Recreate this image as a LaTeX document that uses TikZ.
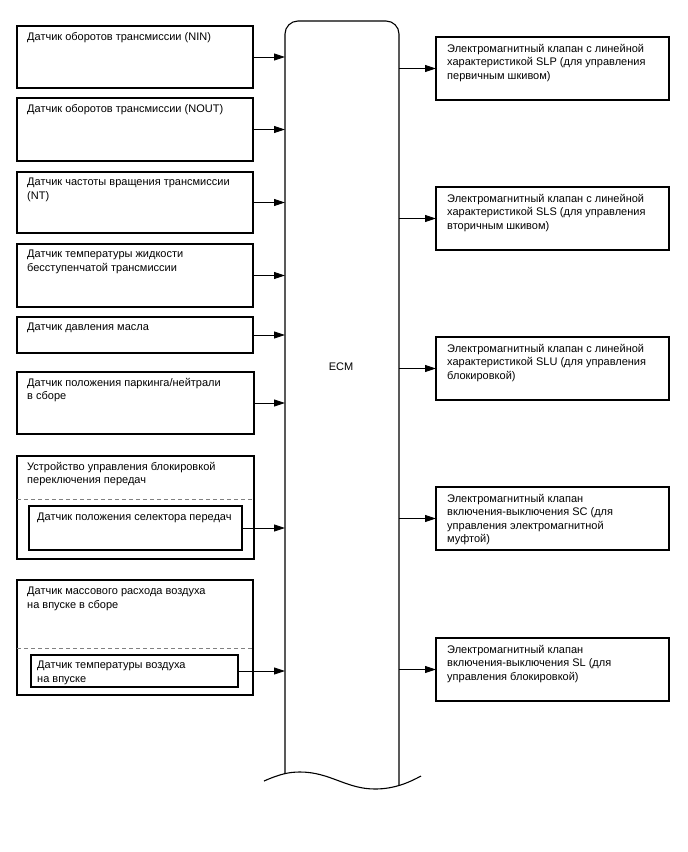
\documentclass[tikz,border=0pt]{standalone}
\usepackage{fontspec}
\setmainfont{Liberation Sans}
\usetikzlibrary{arrows.meta}
\begin{document}
\begin{tikzpicture}[x=1pt,y=-1pt,
  box/.style={draw, line width=1.1pt, anchor=north west, inner sep=0pt, outer sep=0pt},
  txt/.style={anchor=north west, inner sep=0pt, align=left, font=\fontsize{11}{13.4}\selectfont},
  arr/.style={line width=0.9pt, -{Triangle[length=11pt,width=7pt]}},
  sep/.style={draw=gray, line width=0.8pt, dash pattern=on 4pt off 3pt}
]
\useasboundingbox (0,0) rectangle (688,852);

% ECM
\node[inner sep=0pt, outer sep=0pt, minimum width=114pt, minimum height=764pt, anchor=north west] (ecm) at (285,21) {};
\coordinate (ecmbl) at (285,773);
\coordinate (ecmbr) at (399,785);
\draw[line width=1.1pt, rounded corners=13pt] (ecmbl) -- (ecm.north west) -- (ecm.north east) -- (ecmbr);
\draw[line width=1.1pt] (264,781) .. controls (280,774) and (289,772) .. (300,772)
  .. controls (330,772) and (346,789) .. (375,789)
  .. controls (395,789) and (410,782) .. (421,776);
\node[font=\fontsize{11}{13.4}\selectfont] (ecmlabel) at (341,367) {ECM};

% Left boxes
\node[box, minimum width=236pt, minimum height=62pt] (b1) at (17,26) {};
\node[txt] (t1) at ([xshift=10pt,yshift=-6pt]b1.north west) {Датчик оборотов трансмиссии (NIN)};
\node[box, minimum width=236pt, minimum height=63pt] (b2) at (17,98) {};
\node[txt] (t2) at ([xshift=10pt,yshift=-6pt]b2.north west) {Датчик оборотов трансмиссии (NOUT)};
\node[box, minimum width=236pt, minimum height=61pt] (b3) at (17,172) {};
\node[txt] (t3) at ([xshift=10pt,yshift=-6pt]b3.north west) {Датчик частоты вращения трансмиссии\\(NT)};
\node[box, minimum width=236pt, minimum height=63pt] (b4) at (17,244) {};
\node[txt] (t4) at ([xshift=10pt,yshift=-6pt]b4.north west) {Датчик температуры жидкости\\бесступенчатой трансмиссии};
\node[box, minimum width=236pt, minimum height=36pt] (b5) at (17,317) {};
\node[txt] (t5) at ([xshift=10pt,yshift=-6pt]b5.north west) {Датчик давления масла};
\node[box, minimum width=237pt, minimum height=62pt] (b6) at (17,372) {};
\node[txt] (t6) at ([xshift=10pt,yshift=-6pt]b6.north west) {Датчик положения паркинга/нейтрали\\в сборе};

% Box 7 with inner box
\node[box, minimum width=237pt, minimum height=103pt] (b7) at (17,456) {};
\node[txt] (t7) at ([xshift=10pt,yshift=-6pt]b7.north west) {Устройство управления блокировкой\\переключения передач};
\coordinate (d7a) at (17,499);
\coordinate (d7b) at (254,499);
\draw[sep] (d7a) -- (d7b);
\node[box, minimum width=213pt, minimum height=44pt] (i7) at (29,506) {};
\node[txt] (ti7) at ([xshift=8pt,yshift=-7pt]i7.north west) {Датчик положения селектора передач};

% Box 8 with inner box
\node[box, minimum width=236pt, minimum height=115pt] (b8) at (17,580) {};
\node[txt] (t8) at ([xshift=10pt,yshift=-7pt]b8.north west) {Датчик массового расхода воздуха\\на впуске в сборе};
\coordinate (d8a) at (17,648);
\coordinate (d8b) at (253,648);
\draw[sep] (d8a) -- (d8b);
\node[box, minimum width=207pt, minimum height=32pt] (i8) at (31,655) {};
\node[txt] (ti8) at ([xshift=6pt,yshift=-6pt]i8.north west) {Датчик температуры воздуха\\на впуске};

% Right boxes
\node[box, minimum width=233pt, minimum height=63pt] (r1) at (436,37) {};
\node[txt] (s1) at ([xshift=11pt,yshift=-7pt]r1.north west) {Электромагнитный клапан с линейной\\характеристикой SLP (для управления\\первичным шкивом)};
\node[box, minimum width=233pt, minimum height=63pt] (r2) at (436,187) {};
\node[txt] (s2) at ([xshift=11pt,yshift=-7pt]r2.north west) {Электромагнитный клапан с линейной\\характеристикой SLS (для управления\\вторичным шкивом)};
\node[box, minimum width=233pt, minimum height=63pt] (r3) at (436,337) {};
\node[txt] (s3) at ([xshift=11pt,yshift=-7pt]r3.north west) {Электромагнитный клапан с линейной\\характеристикой SLU (для управления\\блокировкой)};
\node[box, minimum width=233pt, minimum height=63pt] (r4) at (436,487) {};
\node[txt] (s4) at ([xshift=11pt,yshift=-7pt]r4.north west) {Электромагнитный клапан\\включения-выключения SC (для\\управления электромагнитной\\муфтой)};
\node[box, minimum width=233pt, minimum height=63pt] (r5) at (436,638) {};
\node[txt] (s5) at ([xshift=11pt,yshift=-7pt]r5.north west) {Электромагнитный клапан\\включения-выключения SL (для\\управления блокировкой)};

% Input arrows
\foreach \b in {b1,b2,b3,b4,b5,b6,i7,i8}
  \draw[arr] (\b.east) -- (\b.east -| ecm.west);
% Output arrows
\foreach \r in {r1,r2,r3,r4,r5}
  \draw[arr] (\r.west -| ecm.east) -- (\r.west);
\end{tikzpicture}
\end{document}
